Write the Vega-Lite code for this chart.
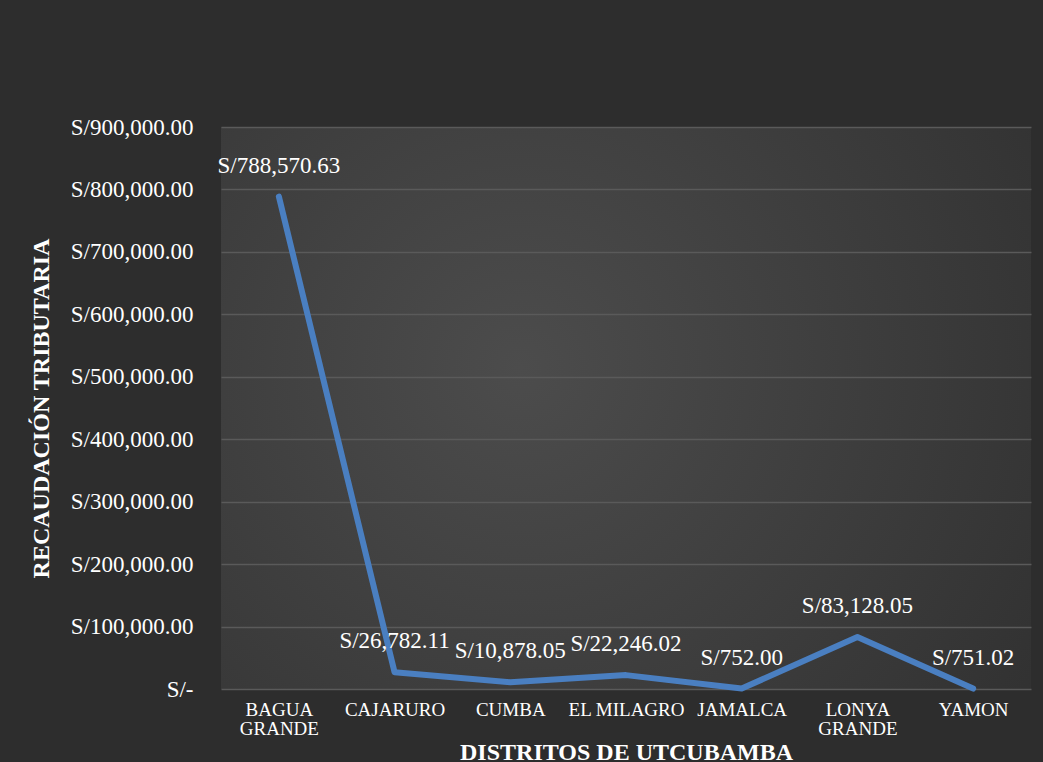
{
  "$schema": "https://vega.github.io/schema/vega-lite/v6.json",
  "autosize": {"type": "none"},
  "width": 810,
  "height": 562,
  "padding": {"left": 221, "top": 127, "right": 12, "bottom": 73},
  "background": "#2d2d2d",
  "config": {
    "font": "Liberation Serif",
    "view": {
      "stroke": null,
      "fill": {
        "gradient": "radial",
        "x1": 0.37, "y1": 0.45, "r1": 0,
        "x2": 0.37, "y2": 0.45, "r2": 0.85,
        "stops": [
          {"offset": 0, "color": "#4c4c4c"},
          {"offset": 1, "color": "#2e2e2e"}
        ]
      }
    }
  },
  "data": {
    "values": [
      {"distrito": "BAGUA GRANDE", "recaudacion": 788570.63},
      {"distrito": "CAJARURO", "recaudacion": 26782.11},
      {"distrito": "CUMBA", "recaudacion": 10878.05},
      {"distrito": "EL MILAGRO", "recaudacion": 22246.02},
      {"distrito": "JAMALCA", "recaudacion": 752.00},
      {"distrito": "LONYA GRANDE", "recaudacion": 83128.05},
      {"distrito": "YAMON", "recaudacion": 751.02}
    ]
  },
  "transform": [
    {"calculate": "'S/' + format(datum.recaudacion, ',.2f')", "as": "etiqueta"}
  ],
  "encoding": {
    "x": {
      "field": "distrito",
      "type": "nominal",
      "sort": null,
      "scale": {"paddingInner": 0, "paddingOuter": 0.5},
      "axis": {
        "title": "DISTRITOS DE UTCUBAMBA",
        "titleFont": "Liberation Serif",
        "titleFontSize": 24,
        "titleFontWeight": "bold",
        "titleColor": "#ffffff",
        "titlePadding": 2,
        "labelAngle": 0,
        "labelFont": "Liberation Serif",
        "labelFontSize": 19,
        "labelColor": "#ffffff",
        "labelPadding": 11,
        "labelLineHeight": 19,
        "labelExpr": "datum.label == 'BAGUA GRANDE' ? ['BAGUA', 'GRANDE'] : datum.label == 'LONYA GRANDE' ? ['LONYA', 'GRANDE'] : datum.label",
        "ticks": false,
        "domain": false,
        "grid": false
      }
    },
    "y": {
      "field": "recaudacion",
      "type": "quantitative",
      "scale": {"domain": [0, 900000], "nice": false},
      "axis": {
        "title": "RECAUDACIÓN TRIBUTARIA",
        "titleFont": "Liberation Serif",
        "titleFontSize": 24,
        "titleFontWeight": "bold",
        "titleColor": "#ffffff",
        "titlePadding": 17,
        "values": [0, 100000, 200000, 300000, 400000, 500000, 600000, 700000, 800000, 900000],
        "labelExpr": "datum.value == 0 ? 'S/-\u00a0\u00a0' : 'S/' + format(datum.value, ',.2f')",
        "labelFont": "Liberation Serif",
        "labelFontSize": 23,
        "labelColor": "#ffffff",
        "labelPadding": 28,
        "ticks": false,
        "domain": false,
        "grid": true,
        "gridColor": "#5a5a5a",
        "gridWidth": 1.3
      }
    }
  },
  "layer": [
    {
      "mark": {
        "type": "line",
        "color": "#4a7fc1",
        "strokeWidth": 6,
        "strokeCap": "round",
        "strokeJoin": "round"
      }
    },
    {
      "mark": {
        "type": "text",
        "font": "Liberation Serif",
        "fontSize": 23,
        "color": "#ffffff",
        "baseline": "middle",
        "dy": -31
      },
      "encoding": {
        "text": {"field": "etiqueta", "type": "nominal"}
      }
    }
  ]
}
